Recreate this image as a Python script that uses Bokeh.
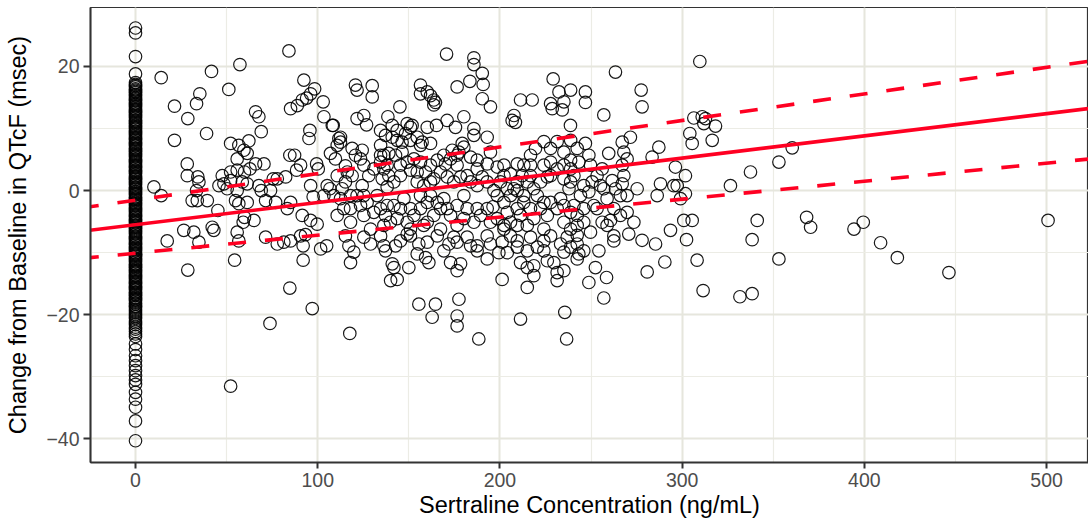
from bokeh.plotting import figure
from bokeh.models import ColumnDataSource, Range1d, SingleIntervalTicker
from bokeh.embed import file_html
from bokeh.resources import INLINE

# Change from baseline in QTcF (msec) for placebo / pre-dose samples (concentration 0)
dqtcf_at_zero = [
    26.2, 25.4, 21.6, 18.8, 17.4, 16.9, 16.4, 16.0, 15.5, 15.0, 14.6, 14.1, 13.7, 13.2,
    12.8, 12.3, 11.9, 11.4, 11.0, 10.5, 10.1, 9.6, 9.2, 8.7, 8.3, 7.8, 7.4, 6.9, 6.5,
    6.0, 5.6, 5.1, 4.7, 4.2, 3.8, 3.3, 2.9, 2.4, 2.0, 1.5, 1.1, 0.6, 0.2, -0.3, -0.7,
    -1.2, -1.6, -2.1, -2.5, -3.0, -3.4, -3.9, -4.3, -4.8, -5.2, -5.7, -6.1, -6.6, -7.0,
    -7.5, -7.9, -8.4, -8.8, -9.3, -9.7, -10.2, -10.6, -11.1, -11.5, -12.0, -12.4, -12.9,
    -13.3, -13.8, -14.2, -14.7, -15.1, -15.6, -16.0, -16.5, -16.9, -17.4, -17.8, -18.3,
    -18.8, -19.4, -20.0, -20.6, -21.3, -22.0, -22.7, -23.5, -24.7, -25.6, -26.6, -27.4,
    -28.2, -29.0, -29.8, -30.5, -31.2, -32.5, -33.6, -34.9, -37.1, -40.3,
]
dqtcf_at_zero_more = [
    17.1, 16.7, 16.2, 15.8, 15.3, 14.8, 14.4, 13.9, 13.5, 13.0, 12.6, 12.1, 11.7, 11.2,
    10.8, 10.3, 9.9, 9.4, 9.0, 8.5, 8.1, 7.6, 7.2, 6.7, 6.3, 5.8, 5.4, 4.9, 4.5, 4.0,
    3.6, 3.1, 2.7, 2.2, 1.8, 1.3, 0.9, 0.4, -0.1, -0.5, -1.0, -1.4, -1.9, -2.3, -2.8,
    -3.2, -3.7, -4.1, -4.6, -5.0, -5.5, -5.9, -6.4, -6.8, -7.3, -7.7, -8.2, -8.6, -9.1,
    -9.5, -10.0, -10.4, -10.9, -11.3, -11.8, -12.2, -12.7, -13.1, -13.6, -14.0, -14.5,
    -14.9, -15.4, -15.8, -16.3, -16.7, -17.2, -17.6, -18.1, -18.6, -19.1, -19.7, -20.3,
    -21.0, -21.6, -22.3, -23.1,
]

# (sertraline ng/mL, change in QTcF msec) below 110 ng/mL
obs_low = [
    (84.2, 22.5), (57.3, 20.3), (41.7, 19.2), (14.1, 18.2), (51.2, 16.3), (92.4, 17.8),
    (98.3, 16.4), (96.1, 15.6), (93.9, 14.9), (91.5, 14.6), (88.8, 13.7), (85.1, 13.2),
    (103.0, 14.3), (103.4, 11.9), (108.0, 10.5), (111.6, 8.4), (110.7, 7.3), (35.3, 15.6),
    (33.5, 14.0), (21.4, 13.6), (28.7, 11.6), (65.9, 12.7), (67.7, 11.9), (69.0, 9.5),
    (39.0, 9.2), (21.4, 8.1), (52.2, 7.6), (56.7, 7.3), (59.5, 6.5), (61.3, 6.0),
    (62.2, 8.0), (55.8, 5.1), (95.7, 9.7), (95.2, 8.4), (84.7, 5.7), (87.3, 5.7),
    (90.6, 4.1), (88.4, 3.3), (107.0, 6.0), (99.4, 4.3), (100.3, 3.5), (28.4, 4.3),
    (28.4, 2.4), (34.2, 2.2), (34.8, 1.4), (47.6, 2.4), (52.2, 3.0), (55.8, 3.3),
    (59.8, 3.0), (62.8, 3.5), (65.9, 4.3), (70.5, 4.3), (77.8, 1.9), (75.6, 1.9),
    (82.4, 2.2), (10.1, 0.6), (14.1, -0.8), (33.5, 0.0), (31.1, -1.6), (33.9, -1.6),
    (45.8, 0.8), (48.5, 1.1), (50.3, 0.3), (52.2, 1.6), (55.8, 0.0), (58.6, 1.4),
    (61.3, 1.1), (39.4, -1.6), (45.2, -3.2), (54.9, -1.6), (56.7, -2.1), (61.3, -1.9),
    (67.7, 0.8), (69.0, 0.0), (74.1, 0.0), (71.4, -1.6), (76.9, -1.9), (85.1, -1.9),
    (83.3, -2.9), (96.1, 0.8), (97.5, -1.0), (103.4, -0.8), (105.2, 0.8), (106.7, 0.3),
    (91.5, -4.0), (96.1, -4.8), (99.7, -5.4), (59.8, -4.3), (65.0, -4.8), (59.1, -5.1),
    (26.5, -6.4), (32.0, -6.7), (42.1, -5.9), (43.0, -6.4), (55.8, -6.7), (17.4, -8.1),
    (34.8, -8.3), (28.7, -12.8), (56.7, -8.1), (54.4, -11.2), (71.4, -7.5), (77.8, -8.6),
    (81.4, -8.3), (85.1, -8.1), (90.6, -7.3), (93.3, -7.1), (92.0, -8.9), (92.0, -11.2),
    (101.6, -9.4), (104.9, -8.9), (84.7, -15.7), (97.0, -19.0), (73.8, -21.4), (52.2, -31.5),
]

# 110 - 245 ng/mL, above the fitted line
obs_mid_upper = [
    (170.7, 22.0), (185.7, 21.4), (185.7, 20.3), (190.3, 18.9), (183.5, 17.6), (176.5, 16.7),
    (190.8, 17.1), (190.3, 14.8), (194.8, 13.5), (120.7, 17.0), (121.6, 16.2), (129.9, 16.9),
    (129.9, 15.1), (156.4, 17.0), (156.4, 15.6), (160.1, 15.9), (161.9, 15.3), (163.7, 14.6),
    (163.7, 13.8), (164.6, 14.2), (229.2, 18.0), (232.4, 15.9), (238.8, 16.2), (211.3, 14.6),
    (217.7, 14.6), (227.8, 14.0), (228.7, 13.2), (234.2, 13.0), (235.1, 14.3), (207.7, 12.1),
    (206.7, 11.3), (208.5, 11.0), (121.6, 11.6), (125.3, 12.1), (126.8, 10.6), (138.5, 11.9),
    (145.1, 13.5), (108.5, 10.5), (171.0, 11.3), (180.2, 11.9), (175.6, 10.2), (185.7, 10.0),
    (185.7, 8.9), (193.0, 8.6), (150.9, 10.2), (143.6, 9.7), (140.9, 8.6), (146.3, 7.8),
    (150.9, 8.1), (156.4, 7.3), (160.1, 10.2), (165.2, 10.5), (161.9, 7.6), (112.5, 8.6),
    (112.5, 7.8), (118.9, 6.8), (124.4, 6.5), (120.7, 5.7), (123.5, 5.1), (134.5, 7.3),
    (136.3, 5.7), (139.0, 6.0), (134.5, 9.7), (137.2, 8.9), (140.9, 10.5), (143.6, 8.1),
    (148.2, 9.2), (149.1, 10.8), (151.8, 10.5), (154.6, 8.6), (157.3, 7.8),
]

# 110 - 245 ng/mL, around the fitted line
obs_mid_core = [
    (115.2, 4.0), (116.2, 3.0), (118.9, 2.4), (115.2, 1.4), (113.4, 0.3), (118.0, -0.8),
    (124.4, 0.8), (125.3, -0.8), (134.5, 4.6), (136.3, 3.5), (135.4, 1.9), (139.0, 2.4),
    (138.1, 0.6), (141.8, 1.4), (145.4, 4.1), (145.4, 2.4), (152.8, 5.1), (156.4, 4.6),
    (154.6, 3.0), (159.2, 3.0), (161.9, 4.1), (163.7, 1.9), (167.4, 3.0), (170.1, 4.3),
    (172.9, 5.1), (176.5, 4.1), (176.5, 5.7), (180.2, 7.0), (179.3, 7.6), (183.9, 5.4),
    (187.5, 4.9), (187.5, 3.5), (193.0, 4.3), (194.8, 6.2), (198.5, 3.8), (202.2, 4.1),
    (202.2, 2.4), (205.8, 2.7), (209.5, 4.3), (213.1, 4.1), (216.8, 5.7), (216.8, 4.1),
    (219.5, 6.8), (224.1, 7.9), (227.8, 6.8), (231.4, 7.9), (235.1, 6.2), (238.8, 8.1),
    (238.8, 4.9), (242.4, 6.8), (235.1, 4.1), (238.8, 3.5), (224.1, 4.1), (226.0, 2.2),
    (238.8, 1.4), (237.9, 0.3), (134.5, 5.7), (138.1, 4.1), (142.7, 5.7), (146.3, 6.2),
    (149.1, 4.6), (150.9, 3.3), (154.6, 1.4), (158.2, 0.8), (161.9, 1.4), (165.6, 4.9),
    (169.2, 5.7), (173.8, 6.5), (177.5, 6.2), (171.1, 2.2), (174.7, 1.4), (178.4, 2.2),
    (182.0, 2.4), (183.9, 1.4), (187.5, 0.8), (190.3, 2.2), (193.0, 1.4), (196.7, 0.0),
    (200.3, 1.4), (204.0, 0.3), (209.5, 1.4), (212.2, 2.4), (215.0, 1.4), (218.6, 0.3),
    (222.3, 1.4), (227.8, 2.4), (231.4, 3.5), (235.1, 1.9), (240.6, 2.4), (243.3, 4.6),
    (227.8, 4.6), (216.8, 2.4), (209.5, 0.0), (110.7, 2.4), (109.7, 5.1), (130.8, 3.5),
    (125.3, 4.1), (128.0, 2.4),
]

# 110 - 245 ng/mL, below the fitted line
obs_mid_lower = [
    (112.5, -1.3), (114.3, -2.9), (123.5, -2.4), (127.1, -1.9), (132.6, -0.8), (134.5, -2.9),
    (137.2, -4.0), (141.8, -2.4), (143.6, -4.5), (147.3, -1.3), (150.9, -2.9), (152.8, -4.0),
    (156.4, -0.8), (160.1, -1.9), (161.9, -0.8), (165.6, -1.9), (169.2, -1.3), (171.1, -2.9),
    (172.9, -4.0), (176.5, -2.4), (180.2, -0.8), (182.0, -2.9), (185.7, -5.1), (189.4, -4.0),
    (193.0, -2.9), (194.8, -5.1), (198.5, -0.8), (202.2, -1.9), (205.8, -0.8), (207.7, 0.3),
    (209.5, -2.9), (213.1, -1.9), (216.8, -2.9), (220.5, -0.8), (224.1, -1.9), (226.0, -4.0),
    (231.4, -2.9), (233.3, -1.3), (235.1, -5.1), (240.6, -2.4), (242.4, -4.0), (129.0, -6.2),
    (136.3, -5.6), (150.9, -6.2), (158.2, -5.6), (167.4, -6.2), (202.2, -6.2), (209.5, -5.6),
    (224.1, -6.2), (238.8, -6.2), (204.0, -3.5), (205.8, -5.1), (211.3, -4.0), (215.0, -5.6),
    (218.6, -4.5), (222.3, -2.9), (227.8, -1.9), (235.1, -2.4), (238.8, -3.5), (213.1, -0.8),
    (196.2, -2.6), (198.5, -4.5), (202.2, -5.6), (187.5, -2.9), (180.2, -4.5), (176.5, -5.6),
    (167.4, -2.9), (163.7, -4.0), (160.1, -5.1), (156.4, -2.9), (149.1, -5.1), (145.4, -2.9),
    (139.9, -5.1), (138.1, -2.4), (130.8, -3.5), (125.3, -4.0), (118.0, -5.1), (110.7, -4.0),
    (108.8, -0.8), (118.0, -2.9), (121.6, -0.8),
    (115.2, -7.3), (117.1, -8.9), (119.8, -9.9), (118.0, -11.6), (134.5, -7.3), (136.3, -8.9),
    (137.2, -9.7), (142.7, -8.9), (140.9, -11.8), (141.8, -12.4), (140.0, -14.5), (143.6, -14.3),
    (150.0, -12.4), (150.9, -7.3), (155.5, -8.6), (160.1, -8.3), (159.2, -10.8), (161.0, -11.6),
    (172.0, -8.6), (174.7, -7.5), (176.5, -8.3), (172.9, -11.6), (178.4, -11.8), (176.5, -12.9),
    (187.5, -8.9), (187.5, -9.7), (193.0, -11.0), (193.0, -7.3), (201.2, -8.3), (199.4, -10.0),
    (204.0, -10.0), (209.5, -9.1), (215.0, -9.7), (220.5, -9.1), (211.3, -11.6), (215.0, -12.4),
    (218.6, -12.1), (218.6, -13.7), (215.0, -15.6), (201.2, -14.3), (226.0, -11.3), (229.6, -11.6),
    (235.1, -9.9), (235.1, -12.9), (231.4, -13.2), (231.4, -14.5), (236.9, -7.5), (242.4, -8.6),
    (155.5, -18.3), (164.6, -18.3), (177.5, -17.5), (162.8, -20.4), (176.5, -20.2), (176.5, -21.8),
    (188.4, -23.9), (117.6, -23.0), (211.3, -20.7), (235.6, -19.6), (236.6, -23.9),
    (125.3, -7.5), (129.0, -8.6), (145.4, -8.1), (149.1, -7.0), (165.6, -7.3), (182.0, -7.5),
    (183.9, -8.9), (194.8, -8.6), (205.8, -7.3), (209.5, -8.1), (216.8, -7.5), (224.1, -8.1),
    (227.8, -7.3), (233.3, -8.6), (238.8, -9.1), (243.3, -10.2), (224.1, -9.7), (169.2, -9.7),
    (154.6, -10.2),
]

# 245 ng/mL and above
obs_high = [
    (309.7, 20.8), (263.4, 19.1), (246.9, 15.9), (246.9, 14.2), (277.5, 16.2), (278.0, 13.5),
    (257.0, 12.2), (238.7, 10.5), (306.4, 11.7), (311.0, 11.9), (312.8, 11.6), (311.9, 10.8),
    (318.3, 10.4), (304.2, 9.2), (305.5, 7.6), (316.5, 8.1), (246.9, 7.6), (248.8, 5.7),
    (259.7, 6.0), (267.1, 7.8), (268.0, 6.2), (271.6, 8.6), (269.8, 5.1), (267.1, 4.1),
    (283.5, 5.4), (287.2, 7.0), (256.1, 3.5), (261.6, 1.6), (263.4, 0.3), (267.1, 1.1),
    (268.0, 2.4), (266.1, -0.8), (255.2, 0.8), (250.6, 1.4), (246.0, 0.8), (248.8, -0.2),
    (244.2, -0.8), (251.5, -2.4), (253.3, -2.9), (260.7, -4.8), (256.1, -5.1), (246.0, -5.1),
    (242.4, -5.6), (288.1, 1.1), (286.3, -0.8), (296.3, 3.8), (301.8, 2.4), (297.3, 0.8),
    (299.1, -1.3), (301.8, -0.5), (295.4, 0.8), (326.5, 0.8), (337.5, 3.0), (353.1, 4.6),
    (360.4, 6.9), (300.9, -4.8), (305.5, -4.8), (293.6, -6.4), (341.2, -4.8), (368.3, -4.3),
    (370.5, -5.9), (262.5, -7.3), (262.5, -8.1), (270.7, -7.0), (278.0, -8.0), (285.4, -8.6),
    (302.4, -7.9), (338.4, -7.9), (242.4, -11.0), (252.4, -12.4), (248.8, -14.8), (258.5, -14.0),
    (257.0, -17.3), (280.8, -13.1), (290.5, -11.5), (308.2, -11.2), (311.5, -16.1), (331.7, -17.1),
    (338.4, -16.6), (353.1, -11.0), (246.0, -9.7), (254.3, -9.7), (249.7, 4.1), (253.3, 2.4),
    (257.0, 0.3), (258.8, -1.3), (246.0, -2.9), (262.5, -2.9), (266.1, -4.0), (258.8, -5.6),
    (249.7, -6.7), (242.4, -7.2), (269.8, -3.5), (273.5, -5.1), (269.8, -0.8), (275.3, 0.3),
    (394.3, -6.2), (399.4, -5.1), (500.8, -4.8), (408.9, -8.4), (418.1, -10.8), (446.4, -13.2),
]

# Linear concentration-QTc model: prediction and 90% bounds
fit_conc = [-30.0, 530.0]
fit_pred = [-6.57, 13.47]
fit_upper = [-2.82, 21.14]
fit_lower = [-10.95, 5.29]

y_ticks = [-40, -20, 0, 20]

zero_vals = dqtcf_at_zero + dqtcf_at_zero_more
conc = [0.0] * len(zero_vals)
dqtcf = list(zero_vals)
for group in (obs_low, obs_mid_upper, obs_mid_core, obs_mid_lower, obs_high):
    conc += [c for c, _ in group]
    dqtcf += [d for _, d in group]

src = ColumnDataSource(dict(conc=conc, dqtcf=dqtcf))

p = figure(
    width=1088, height=523,
    x_range=Range1d(-24.7, 523.0), y_range=Range1d(-43.8, 29.5),
    output_backend="svg", toolbar_location=None,
    min_border_left=90, min_border_right=0, min_border_top=7, min_border_bottom=61,
)
p.background_fill_color = "white"
p.border_fill_color = "white"
p.outline_line_color = "#333333"
p.outline_line_width = 1.2

p.xaxis.ticker = SingleIntervalTicker(interval=100, num_minor_ticks=2)
p.yaxis.ticker = SingleIntervalTicker(interval=20, num_minor_ticks=2)
p.yaxis.major_label_overrides = {v: (str(v).replace("-", "\u2212")) for v in y_ticks}

for grid in (p.xgrid, p.ygrid):
    grid.grid_line_color = "#E6E6DD"
    grid.grid_line_width = 2
    grid.minor_grid_line_color = "#ECECE5"
    grid.minor_grid_line_width = 1.2

for ax in (p.xaxis, p.yaxis):
    ax.axis_line_color = "#333333"
    ax.axis_line_width = 2
    ax.major_tick_line_color = "#333333"
    ax.major_tick_line_width = 2
    ax.major_tick_in = 0
    ax.minor_tick_line_color = None
    ax.major_label_text_font = "Liberation Sans"
    ax.major_label_text_font_size = "19.5px"
    ax.major_label_text_color = "#4D4D4D"
    ax.axis_label_text_font = "Liberation Sans"
    ax.axis_label_text_font_size = "23.5px"
    ax.axis_label_text_font_style = "normal"
    ax.axis_label_text_color = "black"
    ax.major_label_standoff = 4

p.xaxis.major_tick_out = 6
p.yaxis.major_tick_out = 7
p.xaxis.axis_label = "Sertraline Concentration (ng/mL)"
p.yaxis.axis_label = "Change from Baseline in QTcF (msec)"
p.xaxis.axis_label_standoff = 2
p.yaxis.axis_label_standoff = 12

p.scatter("conc", "dqtcf", source=src, marker="circle", size=12.5,
          fill_color=None, line_color="black", line_width=1.2, line_alpha=0.9)

red = "#FF0022"
p.line(fit_conc, fit_pred, line_color=red, line_width=3.6)
p.line(fit_conc, fit_upper, line_color=red, line_width=3.6, line_dash="18 19")
p.line(fit_conc, fit_lower, line_color=red, line_width=3.6, line_dash="18 19")

open("out.html", "w").write(file_html(p, INLINE))
